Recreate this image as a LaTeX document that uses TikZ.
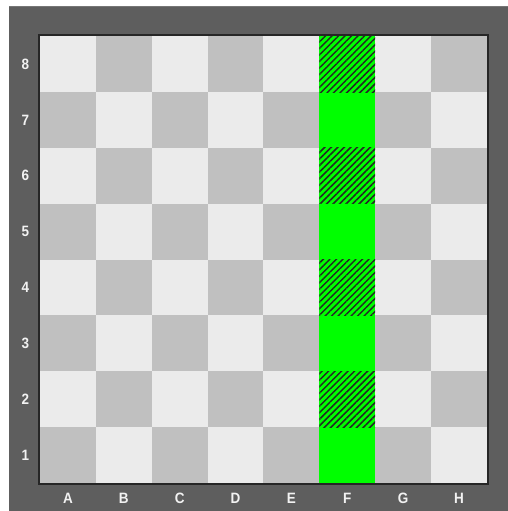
\documentclass[tikz,border=0pt]{standalone}
\usepackage{fontspec}
\setmainfont{Liberation Sans}
\usepackage{xcolor}
\usetikzlibrary{patterns.meta}

\definecolor{framegray}{HTML}{5E5E5E}
\definecolor{framelight}{HTML}{767676}
\definecolor{lightsq}{HTML}{EBEBEB}
\definecolor{darksq}{HTML}{C0C0C0}
\definecolor{labelgray}{HTML}{F2F2F2}

\begin{document}
\begin{tikzpicture}[x=1pt, y=1pt,
    coordlabel/.style={text=labelgray, font=\fontsize{15}{15}\selectfont\bfseries,
        inner sep=0pt, xscale=0.9, transform shape}]
    \useasboundingbox (0,0) rectangle (508,511);
    % Khung ngoai
    \fill[framegray] (9,0) rectangle (508,505);
    \fill[framelight] (9,504) rectangle (508,505);
    \def\sq{55.85}
    % Ban co
    \foreach \c in {0,...,7} {
        \foreach \r in {0,...,7} {
            \pgfmathtruncatemacro{\parity}{mod(\c+\r,2)}
            \ifnum\parity=0
                \fill[darksq] ({40+\c*\sq},{28+\r*\sq}) rectangle ++(\sq,\sq);
            \else
                \fill[lightsq] ({40+\c*\sq},{28+\r*\sq}) rectangle ++(\sq,\sq);
            \fi
        }
    }
    % Cot F
    \fill[green] ({40+5*\sq},28) rectangle ++(\sq,{8*\sq});
    \foreach \r in {1,3,5,7} {
        \fill[pattern={Lines[angle=45, distance=4.6pt, line width=1.5pt]}, pattern color=black!85]
            ({40+5*\sq},{28+\r*\sq}) rectangle ++(\sq,\sq);
    }
    \draw[line width=2pt, black!85] (39,27) rectangle ({41+8*\sq},{29+8*\sq});
    % Nhan toa do
    \foreach \n [count=\i from 0] in {1,...,8} {
        \node[coordlabel] (row\n) at (25.5,{28+(\i+0.5)*\sq}) {\n};
    }
    \foreach \l [count=\i from 0] in {A,B,C,D,E,F,G,H} {
        \node[coordlabel] (col\l) at ({40+(\i+0.5)*\sq},13) {\l};
    }
\end{tikzpicture}
\end{document}
